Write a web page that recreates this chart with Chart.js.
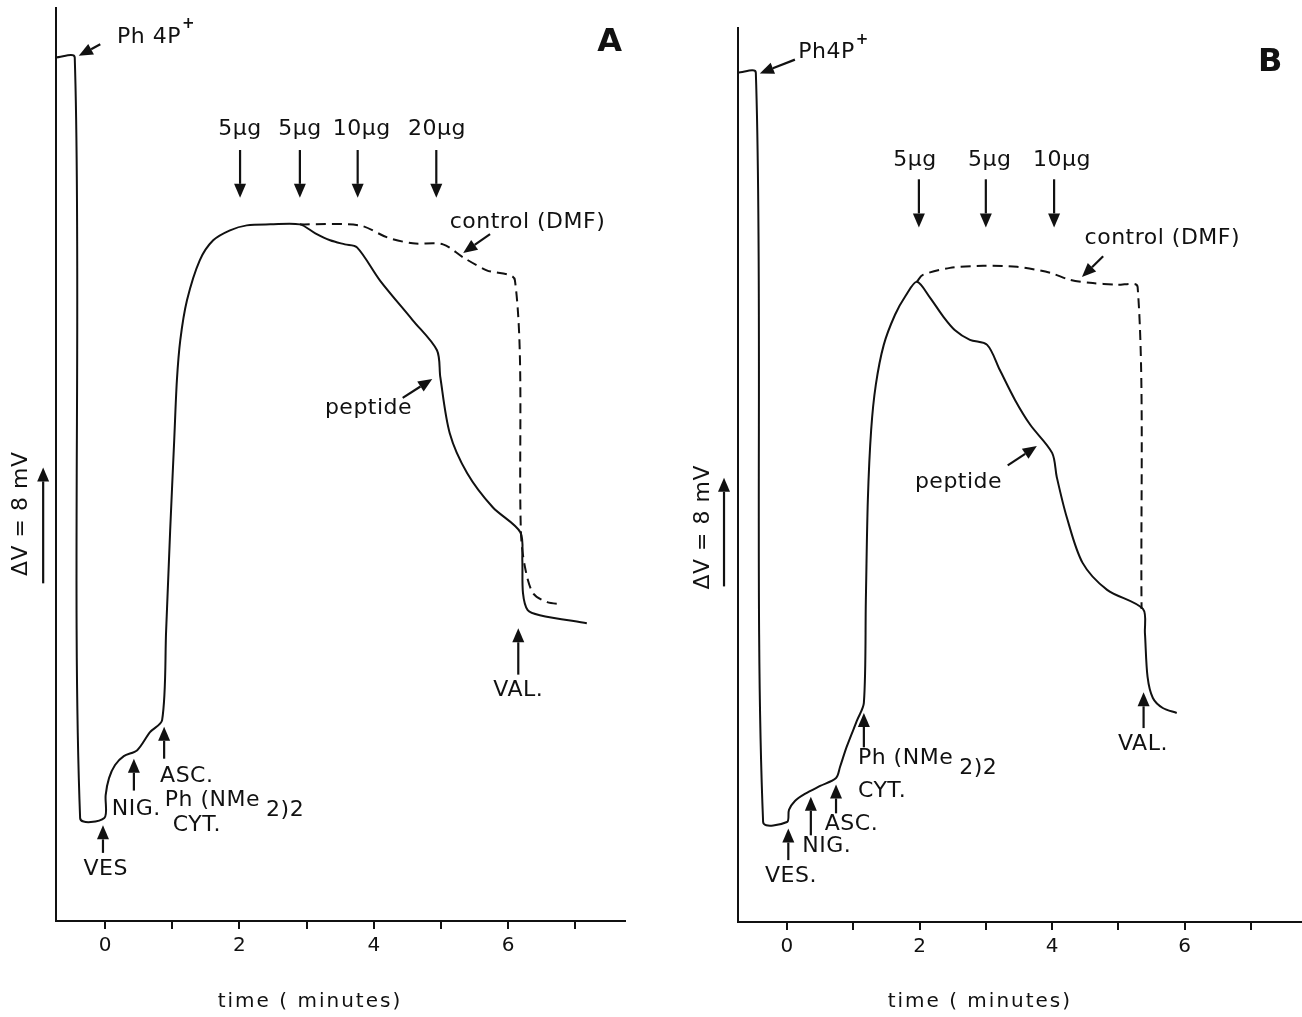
<!DOCTYPE html>
<html>
<head>
<meta charset="utf-8">
<script src="https://cdn.jsdelivr.net/npm/chart.js@4.4.0/dist/chart.umd.min.js"></script>
<style>
  body { margin: 0; background: #fff; }
  #wrap { position: relative; width: 1302px; height: 1017px; }
  canvas { position: absolute; top: 0; }
  #chartA { left: 0; }
  #chartB { left: 651px; }
</style>
</head>
<body>
<div id="wrap">
  <canvas id="chartA" width="651" height="1017"></canvas>
  <canvas id="chartB" width="651" height="1017"></canvas>
</div>
<script>
// time in minutes, potential in mV above the recorder baseline
const timeA = [-0.73, -0.45, -0.37, -0.01, 0.01, 0.06, 0.15, 0.28, 0.48, 0.67, 0.85, 0.91, 0.97, 1.03, 1.07,
  1.12, 1.22, 1.41, 1.61, 1.86, 2.11, 2.46, 2.90, 3.13, 3.35, 3.57, 3.75, 4.09, 4.58, 4.94, 4.99, 5.13, 5.39,
  5.77, 6.18, 6.21, 6.22, 6.29, 6.47, 7.17];
const mvA = [59.59, 59.59, 7.10, 7.10, 8.69, 9.86, 10.76, 11.38, 11.79, 13.03, 13.86, 20.07, 26.97, 33.17, 37.31,
  40.07, 42.83, 45.59, 46.97, 47.66, 48.00, 48.07, 48.07, 47.45, 46.97, 46.69, 46.48, 44.21, 41.45, 39.38, 37.52,
  33.66, 30.90, 28.55, 26.83, 24.90, 22.62, 21.45, 21.10, 20.55];
const timeCtrlA = [2.90, 3.79, 4.20, 4.58, 5.03, 5.33, 5.68, 6.10, 6.19, 6.25, 6.37, 6.58, 6.80];
const mvCtrlA = [48.07, 48.00, 47.17, 46.76, 46.69, 45.79, 44.90, 44.21, 26.76, 24.41, 22.62, 22.00, 21.86];

const timeB = [-0.74, -0.47, -0.36, 0.00, 0.03, 0.12, 0.27, 0.50, 0.74, 0.80, 0.90, 1.06, 1.16, 1.19, 1.22,
  1.27, 1.34, 1.46, 1.63, 1.79, 1.96, 2.16, 2.35, 2.53, 2.76, 3.02, 3.21, 3.44, 3.67, 4.00, 4.07, 4.22, 4.46,
  4.83, 5.37, 5.40, 5.44, 5.52, 5.67, 5.88];
const mvB = [61.75, 61.75, 7.27, 7.27, 8.15, 8.80, 9.31, 9.89, 10.47, 11.27, 12.73, 14.69, 15.93, 23.42, 30.69,
  35.78, 39.05, 41.96, 44.15, 45.53, 46.55, 45.38, 44.07, 43.05, 42.33, 41.96, 40.15, 37.96, 36.15, 34.11, 32.36,
  29.45, 26.11, 24.15, 22.76, 21.02, 17.82, 16.29, 15.56, 15.20];
const timeCtrlB = [1.96, 2.05, 2.46, 2.96, 3.47, 3.97, 4.27, 4.57, 4.98, 5.29, 5.35];
const mvCtrlB = [46.55, 47.05, 47.56, 47.71, 47.64, 47.20, 46.69, 46.47, 46.33, 46.18, 22.76];

const tickLabels = ['0', '2', '4', '6'];

// annotations, in data units (minutes, mV)
const notesA = [
  { text: 'Ph 4P', sup: '+', x: 0.18, y: 61.0, align: 'left' },
  { text: 'A', x: 7.51, y: 60.6, align: 'center', bold: true },
  { text: '5μg', x: 2.01, y: 54.6, align: 'center' },
  { text: '5μg', x: 2.90, y: 54.6, align: 'center' },
  { text: '10μg', x: 3.82, y: 54.6, align: 'center' },
  { text: '20μg', x: 4.94, y: 54.6, align: 'center' },
  { text: 'control (DMF)', x: 5.13, y: 48.2, align: 'left' },
  { text: 'peptide', x: 4.57, y: 35.4, align: 'right' },
  { text: 'VAL.', x: 6.15, y: 15.9, align: 'center' },
  { text: 'VES', x: 0.01, y: 3.6, align: 'center' },
  { text: 'NIG.', x: 0.10, y: 7.7, align: 'left' },
  { text: 'ASC.', x: 0.82, y: 10.0, align: 'left' },
  { text: 'Ph (NMe', sub: '2)2', x: 0.89, y: 8.3, align: 'left' },
  { text: 'CYT.', x: 1.01, y: 6.6, align: 'left' },
  { text: 'ΔV = 8 mV', x: -1.24, y: 28.1, align: 'center', rot: true },
  { text: 'time ( minutes)', x: 3.05, y: -5.6, align: 'center', plain: true }
];
const arrowsA = [
  [-0.07, 60.5, -0.39, 59.7],
  [2.01, 53.2, 2.01, 49.9],
  [2.90, 53.2, 2.90, 49.9],
  [3.76, 53.2, 3.76, 49.9],
  [4.93, 53.2, 4.93, 49.9],
  [5.73, 47.4, 5.33, 46.1],
  [4.43, 36.1, 4.87, 37.4],
  [6.15, 17.0, 6.15, 20.2],
  [-0.03, 4.7, -0.03, 6.6],
  [0.43, 9.0, 0.43, 11.2],
  [0.88, 11.2, 0.88, 13.4],
  [-0.92, 23.3, -0.92, 31.3]
];

const notesB = [
  { text: 'Ph4P', sup: '+', x: 0.17, y: 63.2, align: 'left' },
  { text: 'B', x: 7.29, y: 62.5, align: 'center', bold: true },
  { text: '5μg', x: 1.93, y: 55.4, align: 'center' },
  { text: '5μg', x: 3.06, y: 55.4, align: 'center' },
  { text: '10μg', x: 4.15, y: 55.4, align: 'center' },
  { text: 'control (DMF)', x: 4.49, y: 49.7, align: 'left' },
  { text: 'peptide', x: 1.93, y: 32.0, align: 'left' },
  { text: 'VAL.', x: 5.37, y: 12.9, align: 'center' },
  { text: 'VES.', x: 0.06, y: 3.3, align: 'center' },
  { text: 'NIG.', x: 0.23, y: 5.5, align: 'left' },
  { text: 'ASC.', x: 0.57, y: 7.1, align: 'left' },
  { text: 'Ph (NMe', sub: '2)2', x: 1.07, y: 11.9, align: 'left' },
  { text: 'CYT.', x: 1.07, y: 9.5, align: 'left' },
  { text: 'ΔV = 8 mV', x: -1.27, y: 28.7, align: 'center', rot: true },
  { text: 'time ( minutes)', x: 2.91, y: -5.8, align: 'center', plain: true }
];
const arrowsB = [
  [0.12, 62.7, -0.41, 61.7],
  [1.99, 54.0, 1.99, 50.5],
  [3.00, 54.0, 3.00, 50.5],
  [4.03, 54.0, 4.03, 50.5],
  [4.77, 48.4, 4.45, 46.9],
  [3.33, 33.2, 3.77, 34.6],
  [5.38, 14.1, 5.38, 16.7],
  [0.02, 4.5, 0.02, 6.8],
  [0.36, 6.3, 0.36, 9.1],
  [0.74, 7.9, 0.74, 10.0],
  [1.16, 12.7, 1.16, 15.2],
  [-0.95, 24.4, -0.95, 32.3]
];

const INK = '#111';
const FONT = '"DejaVu Sans", sans-serif';

function drawArrow(ctx, x1, y1, x2, y2) {
  const a = Math.atan2(y2 - y1, x2 - x1);
  const head = 14, half = 6;
  const bx = x2 - head * Math.cos(a), by = y2 - head * Math.sin(a);
  ctx.beginPath();
  ctx.moveTo(x1, y1);
  ctx.lineTo(bx, by);
  ctx.stroke();
  ctx.beginPath();
  ctx.moveTo(x2, y2);
  ctx.lineTo(bx + half * Math.sin(a), by - half * Math.cos(a));
  ctx.lineTo(bx - half * Math.sin(a), by + half * Math.cos(a));
  ctx.closePath();
  ctx.fill();
}

function drawNote(ctx, n, px, py) {
  ctx.save();
  ctx.translate(px, py);
  if (n.rot) ctx.rotate(-Math.PI / 2);
  ctx.textBaseline = 'middle';
  ctx.textAlign = 'left';
  const size = n.bold ? 32 : n.plain ? 20 : 22;
  const main = (n.bold ? 'bold ' : '') + size + 'px ' + FONT;
  const supFont = 'bold 15px ' + FONT;
  ctx.letterSpacing = n.bold ? '0px' : n.plain ? '2px' : '0.5px';
  ctx.font = main;
  const w = ctx.measureText(n.text).width;
  let ew = 0;
  if (n.sub) ew = ctx.measureText(n.sub).width + 6;
  if (n.sup) { ctx.font = supFont; ew = ctx.measureText(n.sup).width; }
  const total = w + ew;
  const x0 = n.align === 'center' ? -total / 2 : n.align === 'right' ? -total : 0;
  ctx.font = main;
  ctx.fillText(n.text, x0, 0);
  if (n.sub) ctx.fillText(n.sub, x0 + w + 6, 10);
  if (n.sup) {
    ctx.font = supFont;
    ctx.fillText(n.sup, x0 + w + 1, -13);
  }
  ctx.restore();
}

function notesPlugin(notes, arrows) {
  return {
    id: 'notes',
    afterDatasetsDraw(chart) {
      const { ctx, scales: { x, y } } = chart;
      ctx.save();
      ctx.fillStyle = INK;
      ctx.strokeStyle = INK;
      ctx.lineWidth = 2.2;
      arrows.forEach(a => drawArrow(ctx,
        x.getPixelForValue(a[0]), y.getPixelForValue(a[1]),
        x.getPixelForValue(a[2]), y.getPixelForValue(a[3])));
      notes.forEach(n => drawNote(ctx, n, x.getPixelForValue(n.x), y.getPixelForValue(n.y)));
      ctx.restore();
    }
  };
}

function points(ts, vs) {
  return ts.map((t, i) => ({ x: t, y: vs[i] }));
}

function makeChart(id, p) {
  return new Chart(document.getElementById(id), {
    type: 'line',
    data: {
      datasets: [
        { label: 'peptide', data: points(p.t, p.v), borderColor: INK, borderWidth: 2, pointRadius: 0, tension: 0.3, fill: false, clip: false },
        { label: 'control (DMF)', data: points(p.tc, p.vc), borderColor: INK, borderWidth: 2, borderDash: [10, 6], pointRadius: 0, tension: 0.3, fill: false, clip: false }
      ]
    },
    options: {
      responsive: false,
      animation: false,
      events: [],
      layout: { padding: p.pad },
      plugins: { legend: { display: false }, tooltip: { enabled: false } },
      scales: {
        x: {
          type: 'linear',
          min: p.xmin,
          max: p.xmax,
          afterFit: s => { s.height = p.xh; },
          ticks: {
            stepSize: 1,
            includeBounds: false,
            autoSkip: false,
            maxRotation: 0,
            padding: 5,
            color: INK,
            font: { family: FONT, size: 20 },
            callback: v => tickLabels.includes(String(v)) ? String(v) : ''
          },
          grid: { display: true, drawOnChartArea: false, drawTicks: true, tickLength: 8, color: INK, lineWidth: 2 },
          border: { display: true, color: INK, width: 2 }
        },
        y: {
          type: 'linear',
          min: 0,
          max: p.ymax,
          afterFit: s => { s.width = p.yw; },
          ticks: { display: false },
          grid: { display: false },
          border: { display: true, color: INK, width: 2 }
        }
      }
    },
    plugins: [notesPlugin(p.notes, p.arrows)]
  });
}

makeChart('chartA', {
  t: timeA, v: mvA, tc: timeCtrlA, vc: mvCtrlA,
  xmin: -0.729, xmax: 7.738, ymax: 63.0,
  pad: { left: 0, right: 26, top: 8, bottom: 0 }, xh: 96, yw: 56,
  notes: notesA, arrows: arrowsA
});

makeChart('chartB', {
  t: timeB, v: mvB, tc: timeCtrlB, vc: mvCtrlB,
  xmin: -0.739, xmax: 7.77, ymax: 65.0,
  pad: { left: 0, right: 0, top: 28, bottom: 0 }, xh: 95, yw: 87,
  notes: notesB, arrows: arrowsB
});
</script>
</body>
</html>
